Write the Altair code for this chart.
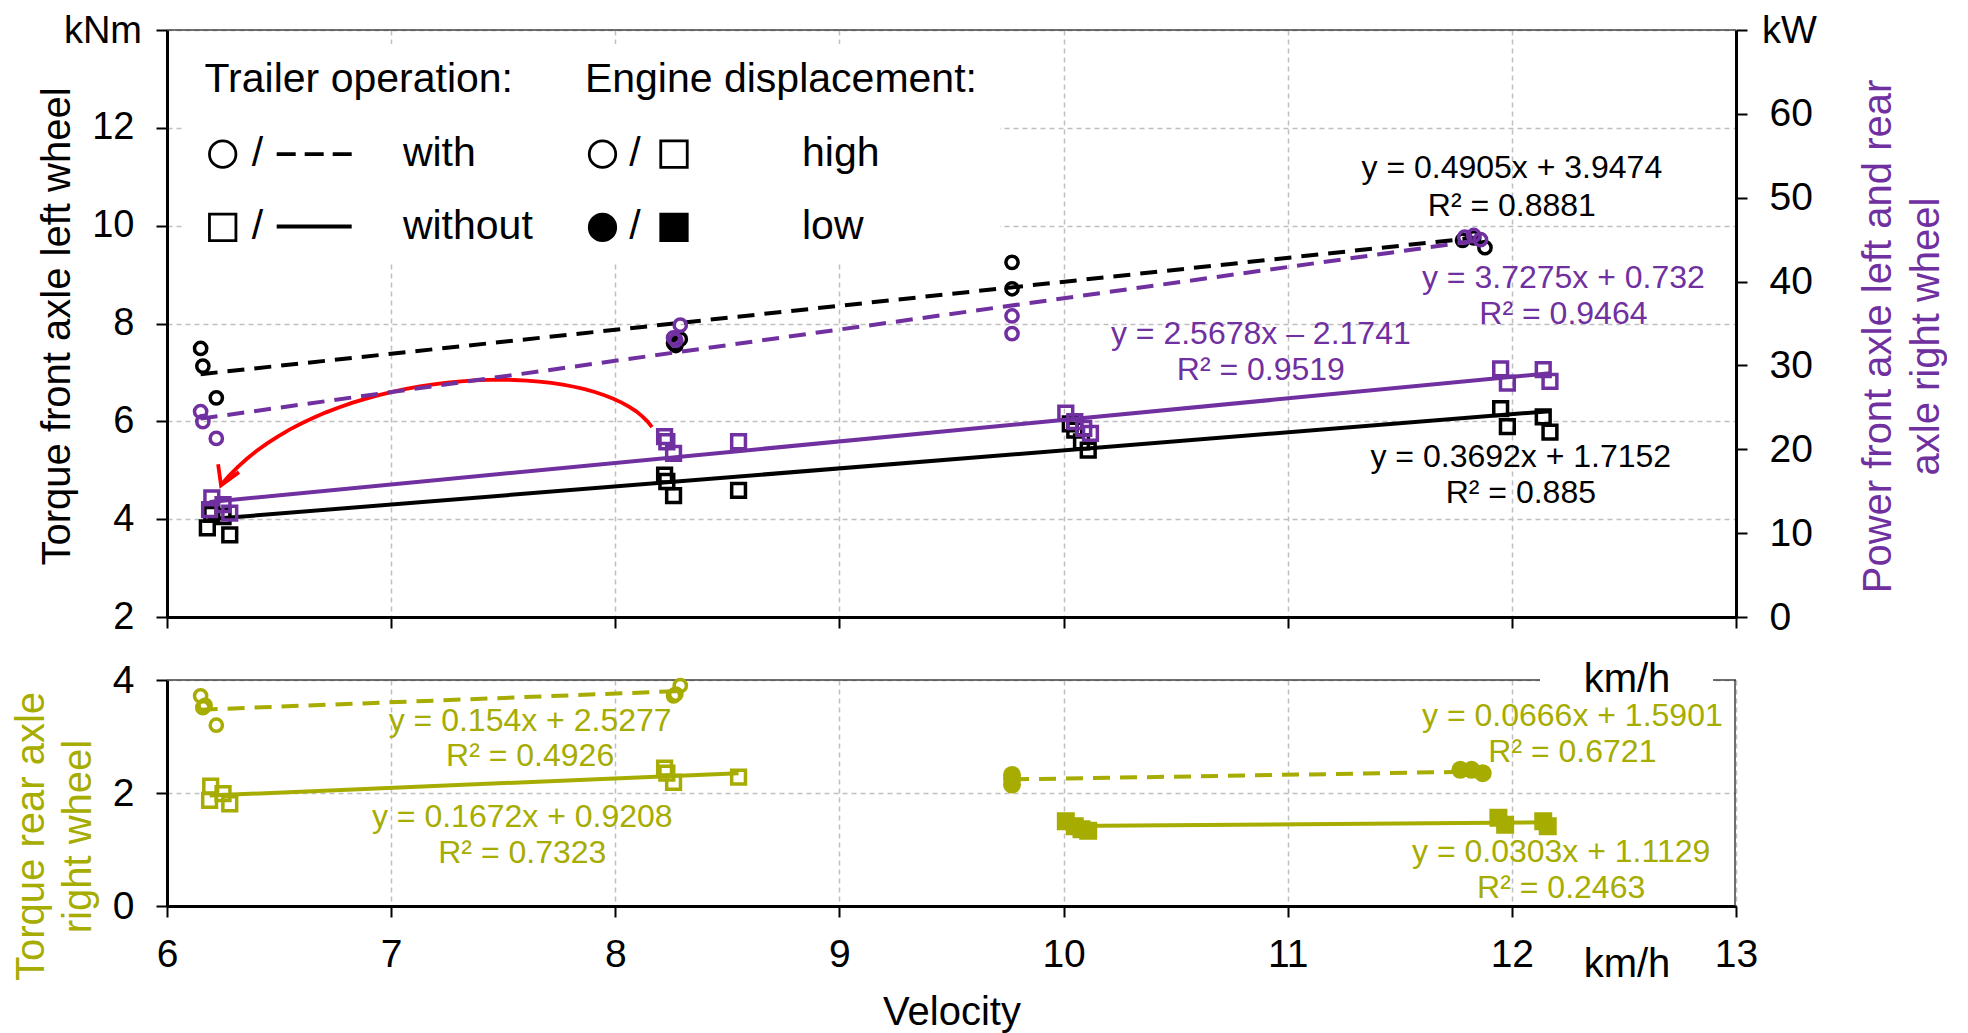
import altair as alt
import numpy as np
import pandas as pd

FONT = "Liberation Sans"
BLACK = "#000000"
PURPLE = "#7030A0"
GREEN = "#A6AC00"
RED = "#FF0000"
GRIDC = "#BFBFBF"
BORDER = "#404040"

# ---------------- data ----------------
# Top panel: torque front axle left wheel [kNm] (black)
tq_with_x = [6.15, 6.16, 6.22, 8.26, 8.27, 8.29, 9.77, 9.77, 11.78, 11.83, 11.88]
tq_with_y = [7.49, 7.13, 6.48, 7.60, 7.55, 7.68, 9.25, 8.71, 9.70, 9.75, 9.55]
tq_without_x = [6.18, 6.28, 6.20, 6.25, 8.22, 8.23, 8.26, 8.55, 10.03, 10.05, 10.08, 10.11,
                11.95, 11.98, 12.14, 12.17]
tq_without_y = [3.82, 3.68, 4.10, 4.05, 4.90, 4.77, 4.48, 4.59, 5.95, 5.82, 5.58, 5.41,
                6.26, 5.89, 6.09, 5.78]

# Top panel: power front axle left and rear axle right wheel [kW] (purple)
pw_with_x = [6.15, 6.16, 6.22, 8.26, 8.27, 8.29, 9.77, 9.77, 11.79, 11.83, 11.86]
pw_with_y = [24.5, 23.3, 21.3, 33.3, 33.0, 34.8, 35.9, 33.8, 45.3, 45.5, 45.0]
pw_without_x = [6.20, 6.19, 6.25, 6.28, 8.22, 8.23, 8.26, 8.55, 10.01, 10.05, 10.09, 10.12,
                11.95, 11.98, 12.14, 12.17]
pw_without_y = [14.2, 12.8, 13.4, 12.4, 21.5, 20.9, 19.5, 20.9, 24.3, 23.3, 22.5, 21.9,
                29.6, 27.9, 29.5, 28.1]

# Bottom panel: torque rear axle right wheel [kNm] (green)
rr_with_hi_x = [6.15, 6.16, 6.17, 6.22, 8.26, 8.27, 8.29]
rr_with_hi_y = [3.72, 3.51, 3.55, 3.20, 3.72, 3.75, 3.90]
rr_without_hi_x = [6.195, 6.19, 6.25, 6.28, 8.22, 8.23, 8.26, 8.55]
rr_without_hi_y = [2.12, 1.87, 1.99, 1.81, 2.44, 2.35, 2.19, 2.28]
rr_with_lo_x = [9.77, 9.77, 9.77, 11.77, 11.82, 11.87]
rr_with_lo_y = [2.32, 2.25, 2.15, 2.41, 2.41, 2.35]
rr_without_lo_x = [10.01, 10.05, 10.08, 10.11, 11.94, 11.97, 12.14, 12.16]
rr_without_lo_y = [1.50, 1.41, 1.36, 1.33, 1.56, 1.44, 1.50, 1.41]

# Regression lines (as printed on the chart) and their velocity ranges
fit_slope = [0.4905, 0.3692, 3.7275, 2.5678, 0.154, 0.1672, 0.0666, 0.0303]
fit_intercept = [3.9474, 1.7152, 0.732, -2.1741, 2.5277, 0.9208, 1.5901, 1.1129]
fit_x_start = [6.15, 6.18, 6.15, 6.19, 6.15, 6.19, 9.77, 10.01]
fit_x_end = [11.88, 12.17, 11.87, 12.17, 8.29, 8.55, 11.87, 12.16]

# Equation labels
blk_lbl_text = ["y = 0.4905x + 3.9474", "R² = 0.8881", "y = 0.3692x + 1.7152", "R² = 0.885"]
pur_lbl_text = ["y = 3.7275x + 0.732", "R² = 0.9464", "y = 2.5678x – 2.1741", "R² = 0.9519"]
grn_lbl_text = ["y = 0.154x + 2.5277", "R² = 0.4926", "y = 0.1672x + 0.9208", "R² = 0.7323",
                "y = 0.0666x + 1.5901", "R² = 0.6721", "y = 0.0303x + 1.1129", "R² = 0.2463"]

# label placement (data units)
blk_lbl_x = [12.0, 12.0, 12.04, 12.04]
blk_lbl_y = [11.18, 10.41, 5.28, 4.54]
pur_lbl_x = [12.23, 12.23, 10.88, 10.88]
pur_lbl_y = [40.4, 36.1, 33.8, 29.5]
grn_lbl_x = [7.62, 7.62, 7.585, 7.585, 12.27, 12.27, 12.22, 12.22]
grn_lbl_y = [3.28, 2.66, 1.57, 0.93, 3.37, 2.73, 0.95, 0.31]

# red annotation arrow (cubic Bezier control points and head, data units)
arrow_ctrl_x = [8.164, 7.932, 6.683, 6.241]
arrow_ctrl_y = [5.881, 7.412, 7.208, 4.697]
arrow_head_x = [6.228, 6.241, 6.321]
arrow_head_y = [5.125, 4.690, 4.962]

# ---------------- layout ----------------
W = 1569
H_TOP = 587
H_BOT = 226

X_SCALE = alt.Scale(domain=[6, 13], nice=False, zero=False)
GRID = dict(grid=True, gridColor=GRIDC, gridDash=[5, 4], gridWidth=1.5)
AX = dict(domainColor=BLACK, domainWidth=3, tickColor=BLACK, tickWidth=2, tickSize=11,
          labelColor=BLACK, labelFont=FONT, titleFont=FONT, titleFontWeight="normal",
          labelFlush=False, labelOverlap=False)

x_top = alt.X("x:Q", scale=X_SCALE,
              axis=alt.Axis(values=list(range(6, 14)), labels=False, title=None, **GRID, **AX))
y_left = alt.Y("y:Q", scale=alt.Scale(domain=[2, 14], nice=False, zero=False),
               axis=alt.Axis(values=[2, 4, 6, 8, 10, 12, 14],
                             labelExpr="datum.value == 14 ? '' : datum.label",
                             labelFontSize=38, labelPadding=22,
                             title="Torque front axle left wheel", titleFontSize=40,
                             titleColor=BLACK, titleAngle=270, titleX=-110, titleY=296,
                             titleAlign="center", titleBaseline="middle", **GRID, **AX))
y_right = alt.Y("y:Q", scale=alt.Scale(domain=[0, 70], nice=False, zero=False),
                axis=alt.Axis(orient="right", values=[0, 10, 20, 30, 40, 50, 60, 70],
                              labelExpr="datum.value == 70 ? '' : datum.label",
                              labelFontSize=39, labelPadding=22,
                              title=["Power front axle left and rear", "axle right wheel"],
                              titleFontSize=40, titleColor=PURPLE, titleAngle=270,
                              titleX=142, titleY=306, titleAlign="center",
                              titleBaseline="middle", titleLineHeight=48, grid=False, **AX))
x_bot = alt.X("x:Q", scale=X_SCALE,
              axis=alt.Axis(values=list(range(6, 14)), labelFontSize=39, labelPadding=18,
                            title="Velocity", titleFontSize=40, titleColor=BLACK,
                            titleX=784.5, titleY=106, titleAlign="center",
                            titleBaseline="middle", **GRID, **AX))
y_bot = alt.Y("y:Q", scale=alt.Scale(domain=[0, 4], nice=False, zero=False),
              axis=alt.Axis(values=[0, 2, 4], labelFontSize=39, labelPadding=22,
                            title=["Torque rear axle", "right wheel"], titleFontSize=40,
                            titleColor=GREEN, titleAngle=270, titleX=-135.5, titleY=156,
                            titleAlign="center", titleBaseline="middle",
                            titleLineHeight=47, **GRID, **AX))

ONE = pd.DataFrame({"a": [0]})


def points(xs, ys, xenc, yenc, shape, filled, color, size):
    df = pd.DataFrame({"x": xs, "y": ys})
    kw = dict(shape=shape, filled=filled, size=size, strokeWidth=3.5, opacity=1, stroke=color)
    if filled:
        kw["fill"] = color
    return alt.Chart(df).mark_point(**kw).encode(x=xenc, y=yenc)


def fit_line(i, xenc, yenc, color, dashed):
    x0, x1 = fit_x_start[i], fit_x_end[i]
    df = pd.DataFrame({"x": [x0, x1],
                       "y": [fit_slope[i] * x0 + fit_intercept[i],
                             fit_slope[i] * x1 + fit_intercept[i]]})
    kw = dict(color=color, strokeWidth=4)
    if dashed:
        kw["strokeDash"] = [17, 10]
    return alt.Chart(df).mark_line(**kw).encode(x=xenc, y=yenc)


def labels(texts, xs, ys, xenc, yenc, color):
    df = pd.DataFrame({"x": xs, "y": ys, "t": texts})
    return alt.Chart(df).mark_text(font=FONT, fontSize=32, color=color, align="center",
                                   baseline="middle").encode(x=xenc, y=yenc, text="t:N")


def ptext(txt, x, y, size, color=BLACK, align="left", baseline="middle"):
    return alt.Chart(ONE).mark_text(text=txt, font=FONT, fontSize=size, color=color,
                                    align=align, baseline=baseline).encode(
        x=alt.value(x), y=alt.value(y))


def psym(x, y, shape, filled, size=700):
    kw = dict(shape=shape, filled=filled, size=size, strokeWidth=2.8, opacity=1, stroke=BLACK)
    if filled:
        kw["fill"] = BLACK
    return alt.Chart(ONE).mark_point(**kw).encode(x=alt.value(x), y=alt.value(y))


def prule(x, x2, y, y2, color, width, dash=None):
    kw = dict(color=color, strokeWidth=width)
    if dash:
        kw["strokeDash"] = dash
    return alt.Chart(ONE).mark_rule(**kw).encode(x=alt.value(x), x2=alt.value(x2),
                                                   y=alt.value(y), y2=alt.value(y2))


def prect(x, x2, y, y2):
    return alt.Chart(ONE).mark_rect(color="white").encode(x=alt.value(x), x2=alt.value(x2),
                                                          y=alt.value(y), y2=alt.value(y2))


# red arrow path
t = np.linspace(0, 1, 40)
bx = ((1 - t) ** 3 * arrow_ctrl_x[0] + 3 * (1 - t) ** 2 * t * arrow_ctrl_x[1]
      + 3 * (1 - t) * t ** 2 * arrow_ctrl_x[2] + t ** 3 * arrow_ctrl_x[3])
by = ((1 - t) ** 3 * arrow_ctrl_y[0] + 3 * (1 - t) ** 2 * t * arrow_ctrl_y[1]
      + 3 * (1 - t) * t ** 2 * arrow_ctrl_y[2] + t ** 3 * arrow_ctrl_y[3])
arrow_df = pd.DataFrame({"x": bx, "y": by, "o": np.arange(len(t))})
head_df = pd.DataFrame({"x": arrow_head_x, "y": arrow_head_y, "o": [0, 1, 2]})
arrow = alt.Chart(arrow_df).mark_line(color=RED, strokeWidth=3.8).encode(
    x=x_top, y=y_left, order="o:Q")
arrow_head = alt.Chart(head_df).mark_line(color=RED, strokeWidth=3.8).encode(
    x=x_top, y=y_left, order="o:Q")

# legend (pixel positions inside the top plot area)
legend = [
    prect(16, 833, 14, 234),
    ptext("Trailer operation:", 37.6, 50.2, 41),
    psym(55.7, 124.2, "circle", False),
    ptext("/", 90.5, 124.2, 41, align="center"),
    prule(109.7, 184.7, 124.2, 124.2, BLACK, 3.8, [19, 9]),
    ptext("with", 235.9, 124.2, 41),
    psym(55.7, 197.4, "square", False),
    ptext("/", 90.5, 197.4, 41, align="center"),
    prule(109.7, 184.7, 196.5, 196.5, BLACK, 3.8),
    ptext("without", 235.9, 197.4, 41),
    ptext("Engine displacement:", 417.9, 50.2, 41),
    psym(435.5, 124.2, "circle", False),
    ptext("/", 468, 124.2, 41, align="center"),
    psym(507, 124.2, "square", False),
    ptext("high", 635, 124.2, 41),
    psym(435.5, 197.4, "circle", True),
    ptext("/", 468, 197.4, 41, align="center"),
    psym(507, 197.4, "square", True),
    ptext("low", 635, 197.4, 41),
]

left_group = alt.layer(
    prule(0, W, 0, 0, BORDER, 1.5),
    fit_line(0, x_top, y_left, BLACK, True),
    fit_line(1, x_top, y_left, BLACK, False),
    points(tq_with_x, tq_with_y, x_top, y_left, "circle", False, BLACK, 150),
    points(tq_without_x, tq_without_y, x_top, y_left, "square", False, BLACK, 190),
    labels(blk_lbl_text, blk_lbl_x, blk_lbl_y, x_top, y_left, BLACK),
    arrow, arrow_head,
    *legend,
    ptext("kNm", -25, 13, 38, align="right", baseline="alphabetic"),
    ptext("kW", W + 26, 13, 38, align="left", baseline="alphabetic"),
)

right_group = alt.layer(
    fit_line(2, x_top, y_right, PURPLE, True),
    fit_line(3, x_top, y_right, PURPLE, False),
    points(pw_with_x, pw_with_y, x_top, y_right, "circle", False, PURPLE, 150),
    points(pw_without_x, pw_without_y, x_top, y_right, "square", False, PURPLE, 190),
    labels(pur_lbl_text, pur_lbl_x, pur_lbl_y, x_top, y_right, PURPLE),
)

top = alt.layer(left_group, right_group).resolve_scale(y="independent").properties(
    width=W, height=H_TOP)

bottom = alt.layer(
    prule(0, W, 0, 0, BORDER, 1.5),
    prule(W - 1, W - 1, 0, H_BOT, BORDER, 1.5),
    fit_line(4, x_bot, y_bot, GREEN, True),
    fit_line(5, x_bot, y_bot, GREEN, False),
    fit_line(6, x_bot, y_bot, GREEN, True),
    fit_line(7, x_bot, y_bot, GREEN, False),
    points(rr_with_hi_x, rr_with_hi_y, x_bot, y_bot, "circle", False, GREEN, 150),
    points(rr_without_hi_x, rr_without_hi_y, x_bot, y_bot, "square", False, GREEN, 190),
    points(rr_with_lo_x, rr_with_lo_y, x_bot, y_bot, "circle", True, GREEN, 210),
    points(rr_without_lo_x, rr_without_lo_y, x_bot, y_bot, "square", True, GREEN, 210),
    labels(grn_lbl_text, grn_lbl_x, grn_lbl_y, x_bot, y_bot, GREEN),
    prect(1373, 1546, -9, 9),
    ptext("km/h", 1460, 0, 40, align="center"),
    ptext("km/h", 1460, 285.4, 40, align="center"),
).properties(width=W, height=H_BOT)

chart = alt.vconcat(top, bottom, spacing=63, bounds="flush").properties(
    padding={"left": 3, "top": 2, "right": 0, "bottom": 0}
).configure(font=FONT).configure_view(stroke="transparent")

chart.save("out.html", embed_options={"renderer": "svg", "actions": False})
